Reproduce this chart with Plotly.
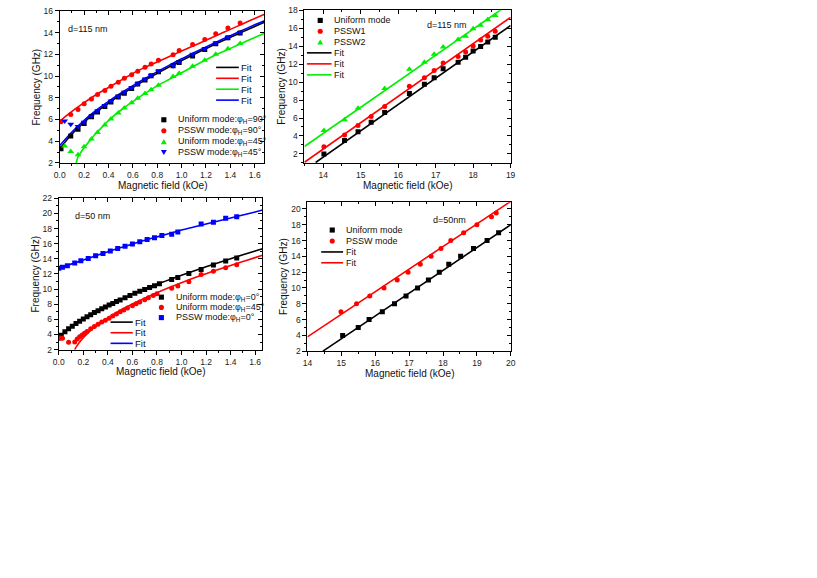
import plotly.graph_objects as go

FIG_W, FIG_H = 817, 578
FONT = "Arial, 'Liberation Sans', sans-serif"
BLACK, RED, GREEN, BLUE = "#000000", "#ff0000", "#00ee00", "#0000ff"

# ---------------- panel (a): d=115 nm, low field ----------------
a_H = [0.01, 0.09, 0.15, 0.2, 0.26, 0.31, 0.37, 0.42, 0.48, 0.53, 0.59, 0.64,
       0.7, 0.75, 0.81, 0.93, 0.98, 1.09, 1.19, 1.28, 1.38, 1.48]
a_H45 = [0.04, 0.09, 0.15, 0.2, 0.26, 0.31, 0.37, 0.42, 0.48, 0.53, 0.59, 0.64,
         0.7, 0.75, 0.81, 0.93, 0.98, 1.09, 1.19, 1.28, 1.38, 1.48]
a_uni90 = [3.3, 4.48, 5.09, 5.64, 6.25, 6.7, 7.2, 7.6, 8.08, 8.42, 8.85, 9.27,
           9.64, 10.03, 10.4, 10.94, 11.24, 11.85, 12.45, 12.97, 13.52, 13.97]
a_pssw90 = [5.79, 6.45, 6.91, 7.45, 7.88, 8.3, 8.67, 9.06, 9.42, 9.79, 10.12, 10.45,
            10.8, 11.1, 11.45, 11.97, 12.36, 12.9, 13.36, 13.9, 14.42, 14.88]
a_uni45 = [3.57, 3.05, 2.75, 3.5, 4.2, 4.8, 5.5, 6.05, 6.6, 7.05, 7.55, 7.95,
           8.4, 8.75, 9.15, 9.97, 10.25, 10.9, 11.45, 12.0, 12.52, 13.0]
a_pssw45 = [5.85, 5.57, 5.35, 5.75, 6.3, 6.78, 7.28, 7.68, 8.15, 8.5, 8.92, 9.3,
            9.7, 10.06, 10.45, 10.95, 11.3, 12.0, 12.5, 13.02, 13.55, 14.0]
a_fit_H = [0, 0.1, 0.2, 0.3, 0.4, 0.5, 0.6, 0.7, 0.8, 0.9, 1.0, 1.1, 1.2, 1.3,
           1.4, 1.5, 1.6, 1.68]
a_fit_uni90 = [3.3, 4.66, 5.76, 6.69, 7.51, 8.26, 8.96, 9.62, 10.25, 10.85, 11.43,
               11.99, 12.53, 13.06, 13.57, 14.07, 14.57, 14.95]
a_fit_pssw90 = [5.85, 6.75, 7.55, 8.3, 8.95, 9.6, 10.25, 10.8, 11.3, 11.8, 12.3,
                12.8, 13.3, 13.8, 14.3, 14.8, 15.3, 15.7]
a_fit_pssw45 = [3.6, 4.85, 5.93, 6.85, 7.67, 8.42, 9.12, 9.78, 10.41, 11.01, 11.59,
                12.14, 12.68, 13.21, 13.72, 14.22, 14.72, 15.1]
a_fit45_H = [0.135, 0.15, 0.175, 0.2, 0.25, 0.3, 0.4, 0.5, 0.6, 0.7, 0.8, 0.9, 1.0,
             1.1, 1.2, 1.3, 1.4, 1.5, 1.6, 1.68]
a_fit_uni45 = [2.0, 2.55, 3.0, 3.4, 4.1, 4.75, 5.9, 6.85, 7.65, 8.4, 9.1, 9.7, 10.3,
               10.9, 11.5, 12.05, 12.55, 13.05, 13.55, 13.95]

# ---------------- panel (b): d=115 nm, high field ----------------
b_H = [14.02, 14.57, 14.93, 15.28, 15.64, 16.3, 16.7, 16.96, 17.2, 17.6, 17.8,
       18.0, 18.2, 18.39, 18.59]
b_uni = [2.0, 3.5, 4.47, 5.53, 6.62, 8.73, 9.75, 10.48, 11.47, 12.2, 12.75, 13.47,
         13.95, 14.46, 15.0]
b_pssw1 = [2.79, 4.1, 5.16, 6.18, 7.28, 9.53, 10.48, 11.28, 12.12, 12.86, 13.36,
           14.02, 14.67, 15.11, 15.66]
b_H2 = [14.02, 14.57, 14.93, 15.64, 16.3, 16.7, 16.96, 17.2, 17.6, 17.8, 18.0,
        18.2, 18.39, 18.59]
b_pssw2 = [4.61, 5.81, 7.09, 9.28, 11.43, 12.2, 13.11, 13.91, 14.75, 15.11, 15.95,
           16.32, 16.94, 17.41]
b_fit_uni_H = [13.8, 19.0]
b_fit_uni = [1.05, 16.3]
b_fit_p1_H = [13.5, 19.0]
b_fit_p1 = [1.07, 17.2]
b_fit_p2_H = [13.5, 19.0]
b_fit_p2 = [2.83, 18.8]

# ---------------- panel (c): d=50 nm, low field ----------------
c_H_uni = [0, 0.02, 0.05, 0.08, 0.11, 0.14, 0.17, 0.2, 0.23, 0.26, 0.29, 0.32, 0.35,
           0.38, 0.41, 0.44, 0.47, 0.5, 0.54, 0.58, 0.62, 0.66, 0.7, 0.74, 0.78, 0.82,
           0.92, 0.97, 1.06, 1.16, 1.26, 1.36, 1.45]
c_uni0 = [3.55, 3.9, 4.35, 4.75, 5.1, 5.45, 5.75, 6.05, 6.35, 6.6, 6.9, 7.15, 7.4,
          7.65, 7.9, 8.1, 8.35, 8.55, 8.85, 9.15, 9.45, 9.7, 9.95, 10.2, 10.45, 10.7,
          11.27, 11.53, 12.05, 12.6, 13.2, 13.7, 14.1]
c_H_uni45 = [0.01, 0.03, 0.08, 0.13, 0.15, 0.17, 0.19, 0.21, 0.23, 0.26, 0.29, 0.32,
             0.35, 0.38, 0.41, 0.44, 0.47, 0.5, 0.53, 0.56, 0.6, 0.63, 0.66, 0.7,
             0.73, 0.77, 0.8, 0.92, 0.97, 1.06, 1.16, 1.26, 1.36, 1.45]
c_uni45 = [3.55, 3.5, 2.96, 3.0, 3.4, 3.7, 3.95, 4.15, 4.4, 4.75, 5.05, 5.35, 5.65,
           5.9, 6.15, 6.45, 6.7, 7.0, 7.25, 7.5, 7.8, 8.05, 8.3, 8.6, 8.85, 9.15, 9.4,
           10.1, 10.4, 10.96, 11.92, 12.35, 12.83, 13.22]
c_H_pssw = [0.0, 0.03, 0.07, 0.13, 0.18, 0.24, 0.3, 0.36, 0.42, 0.48, 0.54, 0.6,
            0.66, 0.72, 0.78, 0.84, 0.92, 0.97, 1.16, 1.26, 1.36, 1.45]
c_pssw0 = [12.75, 12.9, 13.1, 13.45, 13.75, 14.05, 14.4, 14.7, 15.05, 15.35, 15.65,
           15.95, 16.25, 16.55, 16.8, 17.1, 17.25, 17.55, 18.6, 18.85, 19.35, 19.55]
c_fit_H = [0, 0.05, 0.1, 0.2, 0.3, 0.4, 0.5, 0.6, 0.7, 0.8, 0.9, 1.0, 1.1, 1.2, 1.3,
           1.4, 1.5, 1.6, 1.66]
c_fit_uni0 = [3.6, 4.34, 4.97, 6.06, 6.99, 7.83, 8.59, 9.31, 9.98, 10.63, 11.24,
              11.83, 12.4, 12.95, 13.49, 14.02, 14.53, 15.03, 15.33]
c_fit_pssw0 = [12.75, 13.03, 13.3, 13.85, 14.4, 14.95, 15.45, 15.95, 16.45, 16.9,
               17.35, 17.8, 18.2, 18.6, 19.0, 19.4, 19.8, 20.2, 20.45]
c_fit45_H = [0.13, 0.15, 0.2, 0.25, 0.3, 0.4, 0.5, 0.6, 0.7, 0.8, 0.9, 1.0, 1.1, 1.2,
             1.3, 1.4, 1.5, 1.6, 1.66]
c_fit_uni45 = [2.0, 2.56, 3.59, 4.39, 5.06, 6.2, 7.17, 8.03, 8.81, 9.53, 10.21,
               10.85, 11.46, 12.04, 12.6, 13.13, 13.65, 14.16, 14.46]

# ---------------- panel (d): d=50 nm, high field ----------------
d_H_uni = [15.04, 15.5, 15.82, 16.21, 16.57, 16.91, 17.25, 17.57, 17.89, 18.17,
           18.52, 18.9, 19.3, 19.64]
d_uni = [4, 5, 6, 7, 8, 9, 10, 11, 12, 13, 14, 15, 16, 17]
d_H_pssw = [14.99, 15.45, 15.84, 16.26, 16.65, 16.97, 17.33, 17.65, 17.94, 18.23,
            18.61, 19.0, 19.43, 19.57]
d_pssw = [7, 8, 9, 10, 11, 12, 13, 14, 15, 16, 17, 18, 19, 19.5]
d_fit_uni_H = [14.46, 20.0]
d_fit_uni = [2.0, 18.0]
d_fit_pssw_H = [14.0, 20.0]
d_fit_pssw = [3.81, 20.96]

# ---------------- text ----------------
X_TITLE = "Magnetic field (kOe)"
Y_TITLE = "Frequency (GHz)"
FIT = "Fit"
LBL_A = ["Uniform mode:\u03c6<sub>H</sub>=90\u00b0", "PSSW mode:\u03c6<sub>H</sub>=90\u00b0",
         "Uniform mode:\u03c6<sub>H</sub>=45\u00b0", "PSSW mode:\u03c6<sub>H</sub>=45\u00b0"]
LBL_B = ["Uniform mode", "PSSW1", "PSSW2"]
LBL_C = ["Uniform mode:\u03c6<sub>H</sub>=0\u00b0", "Uniform mode:\u03c6<sub>H</sub>=45\u00b0",
         "PSSW mode:\u03c6<sub>H</sub>=0\u00b0"]
LBL_D = ["Uniform mode", "PSSW mode"]
THICK = ["d=115 nm", "d=115 nm", "d=50 nm", "d=50nm"]

# ---------------- layout geometry (pixels) ----------------
def px(x):
    return x / FIG_W


def py(y):
    return 1 - y / FIG_H


panels = {
    1: dict(xd=(54.5, 262), yd=(6, 160.7), xr=[0, 1.68], yr=[2, 16], xdt=0.2, xmn=0.1, ydt=2, ymn=1, fmt=".1f"),
    2: dict(xd=(302.5, 511.5), yd=(5.3, 160.7), xr=[13.5, 19], yr=[1, 18], xdt=1, xmn=0.5, ydt=2, ymn=1, fmt="d"),
    3: dict(xd=(53.5, 260), yd=(196.7, 350.7), xr=[0, 1.66], yr=[2, 22], xdt=0.2, xmn=0.1, ydt=2, ymn=1, fmt=".1f"),
    4: dict(xd=(305.5, 511.7), yd=(200.7, 352.3), xr=[14, 20], yr=[2, 20.85], xdt=1, xmn=0.5, ydt=2, ymn=1, fmt="d"),
}


def xid(i):
    return "x" if i == 1 else f"x{i}"


def yid(i):
    return "y" if i == 1 else f"y{i}"


def xkey(i):
    return "xaxis" if i == 1 else f"xaxis{i}"


def ykey(i):
    return "yaxis" if i == 1 else f"yaxis{i}"


fig = go.Figure()


def pts(i, x, y, name, color, symbol, size=5):
    fig.add_trace(go.Scatter(x=x, y=y, mode="markers", name=name, showlegend=False,
                             marker=dict(color=color, symbol=symbol, size=size, line=dict(width=0)),
                             xaxis=xid(i), yaxis=yid(i)))


def fit(i, x, y, color, spline=True):
    fig.add_trace(go.Scatter(x=x, y=y, mode="lines", name=FIT, showlegend=False,
                             line=dict(color=color, width=1.6, shape="spline" if spline else "linear"),
                             xaxis=xid(i), yaxis=yid(i)))


# panel 1
fit(1, a_fit_H, a_fit_uni90, BLACK)
fit(1, a_fit_H, a_fit_pssw90, RED)
fit(1, a_fit45_H, a_fit_uni45, GREEN)
fit(1, a_fit_H, a_fit_pssw45, BLUE)
pts(1, a_H, a_uni90, LBL_A[0], BLACK, "square")
pts(1, a_H, a_pssw90, LBL_A[1], RED, "circle")
pts(1, a_H45, a_uni45, LBL_A[2], GREEN, "triangle-up", 6)
pts(1, a_H45, a_pssw45, LBL_A[3], BLUE, "triangle-down", 6)
# panel 2
fit(2, b_fit_uni_H, b_fit_uni, BLACK, False)
fit(2, b_fit_p1_H, b_fit_p1, RED, False)
fit(2, b_fit_p2_H, b_fit_p2, GREEN, False)
pts(2, b_H, b_uni, LBL_B[0], BLACK, "square")
pts(2, b_H, b_pssw1, LBL_B[1], RED, "circle")
pts(2, b_H2, b_pssw2, LBL_B[2], GREEN, "triangle-up", 6)
# panel 3
fit(3, c_fit_H, c_fit_uni0, BLACK)
fit(3, c_fit45_H, c_fit_uni45, RED)
fit(3, c_fit_H, c_fit_pssw0, BLUE)
pts(3, c_H_uni, c_uni0, LBL_C[0], BLACK, "square")
pts(3, c_H_uni45, c_uni45, LBL_C[1], RED, "circle")
pts(3, c_H_pssw, c_pssw0, LBL_C[2], BLUE, "square")
# panel 4
fit(4, d_fit_uni_H, d_fit_uni, BLACK, False)
fit(4, d_fit_pssw_H, d_fit_pssw, RED, False)
pts(4, d_H_uni, d_uni, LBL_D[0], BLACK, "square")
pts(4, d_H_pssw, d_pssw, LBL_D[1], RED, "circle")

layout = dict(width=FIG_W, height=FIG_H, autosize=False, showlegend=False,
              margin=dict(l=0, r=0, t=0, b=0),
              paper_bgcolor="white", plot_bgcolor="white",
              font=dict(family=FONT, color="#111"))

for i, p in panels.items():
    xdom = [px(p["xd"][0]), px(p["xd"][1])]
    ydom = [py(p["yd"][1]), py(p["yd"][0])]
    base_x = dict(range=p["xr"], tick0=0, dtick=p["xdt"], showgrid=False, zeroline=False,
                  tickcolor="black", tickwidth=1, ticklen=4)
    base_y = dict(range=p["yr"], tick0=0, dtick=p["ydt"], showgrid=False, zeroline=False,
                  tickcolor="black", tickwidth=1, ticklen=4)
    layout[xkey(i)] = dict(base_x, domain=xdom, anchor=yid(i), ticks="outside",
                           showline=True, linecolor="black", linewidth=1, mirror=True,
                           tickformat=p["fmt"], tickfont=dict(size=8.5, color="#222"),
                           minor=dict(ticks="outside", ticklen=2, tickcolor="black",
                                      dtick=p["xmn"], tick0=0, showgrid=False))
    layout[ykey(i)] = dict(base_y, domain=ydom, anchor=xid(i), ticks="outside",
                           showline=True, linecolor="black", linewidth=1, mirror=True,
                           tickfont=dict(size=8.5, color="#222"),
                           minor=dict(ticks="outside", ticklen=2, tickcolor="black",
                                      dtick=p["ymn"], tick0=0, showgrid=False))
    # inward ticks on top / right
    layout[xkey(i + 4)] = dict(base_x, overlaying=xid(i), anchor=yid(i), side="top",
                               ticks="inside", showticklabels=False, showline=False,
                               minor=dict(ticks="inside", ticklen=2, tickcolor="black",
                                          dtick=p["xmn"], tick0=0, showgrid=False))
    layout[ykey(i + 4)] = dict(base_y, overlaying=yid(i), anchor=xid(i), side="right",
                               ticks="inside", showticklabels=False, showline=False,
                               minor=dict(ticks="inside", ticklen=2, tickcolor="black",
                                          dtick=p["ymn"], tick0=0, showgrid=False))
    fig.add_trace(go.Scatter(x=[], y=[], xaxis=xid(i + 4), yaxis=yid(i), showlegend=False,
                             hoverinfo="skip"))
    fig.add_trace(go.Scatter(x=[], y=[], xaxis=xid(i), yaxis=yid(i + 4), showlegend=False,
                             hoverinfo="skip"))

annotations = []
shapes = []


def text(xp, yp, s, size=9.5, anchor="left", angle=0):
    annotations.append(dict(x=px(xp), y=py(yp), xref="paper", yref="paper", text=s,
                            showarrow=False, xanchor=anchor, yanchor="middle", textangle=angle,
                            font=dict(size=size, family=FONT, color="#111"), borderpad=0))


def key_marker(xc, yc, symbol, color, s=2.6):
    if symbol == "square":
        shapes.append(dict(type="rect", xref="paper", yref="paper", x0=px(xc - s), x1=px(xc + s),
                           y0=py(yc + s), y1=py(yc - s), fillcolor=color, line=dict(width=0)))
    elif symbol == "circle":
        shapes.append(dict(type="circle", xref="paper", yref="paper", x0=px(xc - s), x1=px(xc + s),
                           y0=py(yc + s), y1=py(yc - s), fillcolor=color, line=dict(width=0)))
    else:
        d = -1 if symbol == "triangle-up" else 1
        path = (f"M {px(xc - s - 0.4)},{py(yc - d * s)} L {px(xc + s + 0.4)},{py(yc - d * s)} "
                f"L {px(xc)},{py(yc + d * s)} Z")
        shapes.append(dict(type="path", xref="paper", yref="paper", path=path,
                           fillcolor=color, line=dict(width=0)))


def key_line(x0, x1, yc, color):
    shapes.append(dict(type="line", xref="paper", yref="paper", x0=px(x0), x1=px(x1),
                       y0=py(yc), y1=py(yc), line=dict(color=color, width=1.6)))


def marker_legend(xm, xt, y0, dy, entries, size=9):
    for k, (label, color, symbol) in enumerate(entries):
        yc = y0 + k * dy
        key_marker(xm, yc, symbol, color)
        text(xt, yc, label, size)


def line_legend(x0, x1, xt, y0, dy, colors, size=9.5):
    for k, color in enumerate(colors):
        yc = y0 + k * dy
        key_line(x0, x1, yc, color)
        text(xt, yc, FIT, size)


# panel 1 legends
line_legend(213, 236, 237.5, 63.5, 11.1, [BLACK, RED, GREEN, BLUE], 9.5)
marker_legend(160, 173, 116.8, 11.1, [(LBL_A[0], BLACK, "square"), (LBL_A[1], RED, "circle"),
                                      (LBL_A[2], GREEN, "triangle-up"), (LBL_A[3], BLUE, "triangle-down")], 9)
# panel 2 legend
marker_legend(318.5, 331.5, 15.7, 11.0, [(LBL_B[0], BLACK, "square"), (LBL_B[1], RED, "circle"),
                                         (LBL_B[2], GREEN, "triangle-up")], 9)
line_legend(305, 330, 331.5, 48.7, 11.2, [BLACK, RED, GREEN], 9)
# panel 3 legends
marker_legend(157.5, 171, 297.3, 10.4, [(LBL_C[0], BLACK, "square"), (LBL_C[1], RED, "circle"),
                                        (LBL_C[2], BLUE, "square")], 9)
line_legend(106, 128.5, 130, 322.7, 10.8, [BLACK, RED, BLUE], 9.5)
# panel 4 legend
marker_legend(330.7, 343.5, 229, 11.1, [(LBL_D[0], BLACK, "square"), (LBL_D[1], RED, "circle")], 9)
line_legend(319.5, 341.7, 343.5, 251.3, 11.0, [BLACK, RED], 9)

# thickness labels
text(62, 24, THICK[0], 9)
text(425.5, 20, THICK[1], 9)
text(69, 215, THICK[2], 9)
text(431.5, 218.3, THICK[3], 9)

# axis titles
for i, p in panels.items():
    xc = (p["xd"][0] + p["xd"][1]) / 2
    yc = (p["yd"][0] + p["yd"][1]) / 2
    text(xc, p["yd"][1] + 22.5, X_TITLE, 10, "center")
    text(p["xd"][0] - 23.5, yc, Y_TITLE, 10, "center", -90)

layout["annotations"] = annotations
layout["shapes"] = shapes
fig.update_layout(**layout)

fig.write_html("out.html", config={"displayModeBar": False},
               post_script="document.body.style.margin='0px';document.body.style.overflow='hidden';")
